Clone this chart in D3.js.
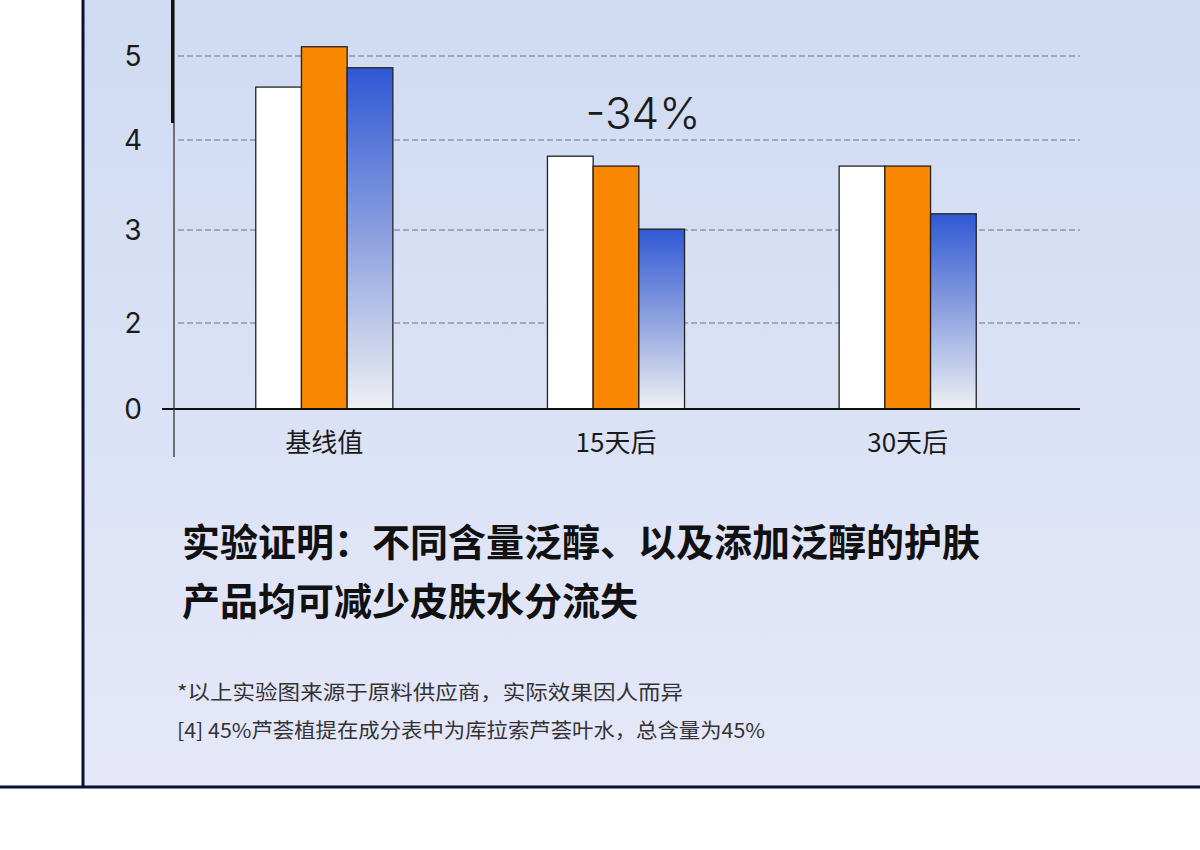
<!DOCTYPE html>
<html><head><meta charset="utf-8">
<script src="https://cdn.jsdelivr.net/npm/d3@7"></script>
<style>body{margin:0;background:#fff}svg{display:block}</style>
</head><body><svg id="c" width="1200" height="850"></svg>
<script>
const categories = ["基线值","15天后","30天后"];
const seriesWhite = [4.63, 3.82, 3.71];
const seriesOrange = [5.11, 3.71, 3.71];
const seriesBlue = [4.86, 3.01, 3.18];
const yTicks = [0,2,3,4,5];
const annotation = "-34%";
const titleLines = ["实验证明：不同含量泛醇、以及添加泛醇的护肤","产品均可减少皮肤水分流失"];
const notes = ["*以上实验图来源于原料供应商，实际效果因人而异","[4] 45%芦荟植提在成分表中为库拉索芦荟叶水，总含量为45%"];

const svg = d3.select("#c");
const defs = svg.append("defs");
const bg = defs.append("linearGradient").attr("id","bg").attr("x1",0).attr("y1",0).attr("x2",0).attr("y2",1);
bg.append("stop").attr("offset",0).attr("stop-color","#cfdbf2");
bg.append("stop").attr("offset",1).attr("stop-color","#e6e8f9");
const bl = defs.append("linearGradient").attr("id","bl").attr("x1",0).attr("y1",0).attr("x2",0).attr("y2",1);
bl.append("stop").attr("offset",0).attr("stop-color","#2f58d4");
bl.append("stop").attr("offset",0.5).attr("stop-color","#8ea2e0");
bl.append("stop").attr("offset",1).attr("stop-color","#eef0f3");

svg.append("rect").attr("x",83).attr("y",0).attr("width",1117).attr("height",787).attr("fill","url(#bg)");
svg.append("line").attr("x1",83).attr("x2",83).attr("y1",0).attr("y2",788).attr("stroke","#0b1035").attr("stroke-width",3);
svg.append("line").attr("x1",0).attr("x2",1200).attr("y1",787).attr("y2",787).attr("stroke","#0b1035").attr("stroke-width",3);

const y = d3.scaleLinear().domain([0,2,3,4,5]).range([409,323,230,140,56]);
const x = d3.scaleBand().domain(categories).range([177,1055]).paddingInner(0.53).paddingOuter(0.27);
const sub = d3.scaleBand().domain(["w","o","b"]).range([0,x.bandwidth()]);

svg.append("g").selectAll("line").data(yTicks.filter(d=>d>0)).join("line")
  .attr("x1",178).attr("x2",1080).attr("y1",d=>y(d)).attr("y2",d=>y(d))
  .attr("stroke","#6b7184").attr("stroke-width",1.2).attr("stroke-dasharray","6,3");

const series=[["w",seriesWhite,"#ffffff"],["o",seriesOrange,"#f98800"],["b",seriesBlue,"url(#bl)"]];
series.forEach(([k,vals,fill])=>{
  svg.append("g").selectAll("rect").data(vals).join("rect")
    .attr("x",(d,i)=>x(categories[i])+sub(k)).attr("width",sub.bandwidth())
    .attr("y",d=>y(d)).attr("height",d=>y(0)-y(d))
    .attr("fill",fill).attr("stroke","#222").attr("stroke-width",1.3);
});

svg.append("line").attr("x1",162).attr("x2",1080).attr("y1",409).attr("y2",409).attr("stroke","#111").attr("stroke-width",2);
svg.append("line").attr("x1",174).attr("x2",174).attr("y1",0).attr("y2",457).attr("stroke","#333").attr("stroke-width",1.3);
svg.append("line").attr("x1",172.5).attr("x2",172.5).attr("y1",0).attr("y2",123).attr("stroke","#111").attr("stroke-width",3);

svg.append("g").selectAll("text").data(yTicks).join("text")
  .attr("x",133).attr("y",d=>y(d)+10).attr("text-anchor","middle")
  .attr("font-family","Inter, 'Noto Sans', sans-serif").attr("font-size",28).attr("fill","#1a1a1a").text(d=>d);
svg.append("g").selectAll("text").data(categories).join("text")
  .attr("x",d=>x(d)+x.bandwidth()/2).attr("y",452).attr("text-anchor","middle")
  .attr("font-family","'Noto Sans CJK SC', sans-serif").attr("font-size",26).attr("fill","#1a1a1a").text(d=>d);

svg.append("text").attr("x",643).attr("y",129).attr("text-anchor","middle")
  .attr("font-family","Inter, 'Noto Sans', sans-serif").attr("font-weight",300).attr("font-size",44).attr("fill","#1a1a1a").text(annotation);

svg.append("g").selectAll("text").data(titleLines).join("text")
  .attr("x",182).attr("y",(d,i)=>556+i*59)
  .attr("font-family","'Noto Sans CJK SC', sans-serif").attr("font-weight",600).attr("font-size",38).attr("fill","#111").text(d=>d);
svg.append("g").selectAll("text").data(notes).join("text")
  .attr("x",177).attr("y",(d,i)=>700+i*38)
  .attr("font-family","'Noto Sans CJK SC', sans-serif").attr("font-size",20).attr("fill","#333")
  .attr("textLength",(d,i)=>i===0?506:588).attr("lengthAdjust","spacingAndGlyphs").text(d=>d);
</script></body></html>
